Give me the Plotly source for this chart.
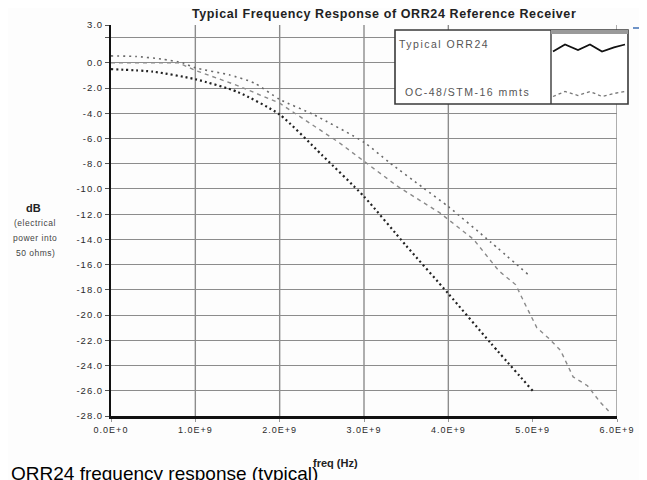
import plotly.graph_objects as go

# ---------------- data ----------------
freq_orr24 = [0.0e9, 0.5e9, 1.0e9, 1.5e9, 2.0e9, 2.5e9, 3.0e9, 3.5e9, 4.0e9, 4.5e9, 5.0e9]
db_orr24 = [-0.5, -0.7, -1.3, -2.3, -4.1, -7.3, -10.6, -14.5, -18.3, -22.2, -26.0]

freq_upper = [0.0e9, 0.3e9, 0.6e9, 0.85e9, 1.0e9, 1.4e9, 1.7e9, 2.0e9, 2.4e9, 3.0e9,
              3.3e9, 3.7e9, 4.0e9, 4.5e9, 4.95e9]
db_upper = [0.55, 0.5, 0.3, 0.0, -0.4, -0.95, -1.6, -2.9, -4.1, -6.3,
            -7.9, -9.9, -11.4, -14.2, -16.8]

freq_lower = [0.0e9, 0.4e9, 0.8e9, 1.0e9, 1.5e9, 2.0e9, 2.4e9, 2.7e9, 3.0e9, 3.4e9,
              3.9e9, 4.3e9, 4.6e9, 4.8e9, 4.9e9, 5.05e9, 5.2e9, 5.33e9, 5.48e9,
              5.65e9, 5.8e9, 5.9e9]
db_lower = [0.0, 0.0, 0.0, -0.6, -1.8, -3.2, -5.0, -6.3, -7.8, -9.8,
            -11.9, -14.0, -16.5, -17.6, -19.0, -21.0, -21.9, -22.8, -24.9,
            -25.6, -26.9, -27.6]

x_tick_vals = [0, 1e9, 2e9, 3e9, 4e9, 5e9, 6e9]
x_tick_text = ["0.0E+0", "1.0E+9", "2.0E+9", "3.0E+9", "4.0E+9", "5.0E+9", "6.0E+9"]
x_grid_vals = [1e9, 2e9, 3e9, 4e9, 6e9]

y_tick_vals = [3, 2, 0, -2, -4, -6, -8, -10, -12, -14, -16, -18, -20, -22, -24, -26, -28]
y_tick_text = ["3.0", "", "0.0", "-2.0", "-4.0", "-6.0", "-8.0", "-10.0", "-12.0", "-14.0",
               "-16.0", "-18.0", "-20.0", "-22.0", "-24.0", "-26.0", "-28.0"]

legend_labels = ["Typical ORR24", "OC-48/STM-16 mmts"]
ylabel_lines = ["(electrical", "power into", "50 ohms)"]


def spaced(t, ls="1px"):
    return f"<span style='letter-spacing:{ls}'>{t}</span>" if t else t


# ---------------- layout helpers ----------------
# the page body has an 8px margin, so the figure is drawn 8px in and 8px down
OFF = 8
W, H = 647 - OFF, 480 - OFF
L, R, T, B = 111 - OFF, 30, 25 - OFF, 64
PW, PH = W - L - R, H - T - B


def px(x):
    return (x - OFF - L) / PW


def py(y):
    return (H - B - (y - OFF)) / PH


FONT = "Arial, Liberation Sans, Helvetica, sans-serif"

fig = go.Figure()

fig.add_trace(go.Scatter(x=freq_upper, y=db_upper, mode="lines", name="upper",
                         line=dict(color="#6a6a6a", width=1.6, dash="2px,4px", shape="spline",
                                   smoothing=0.6),
                         showlegend=False))
fig.add_trace(go.Scatter(x=freq_lower, y=db_lower, mode="lines", name="lower",
                         line=dict(color="#8a8a8a", width=1.4, dash="4px,4px"),
                         showlegend=False))
fig.add_trace(go.Scatter(x=freq_orr24, y=db_orr24, mode="lines", name=legend_labels[0],
                         line=dict(color="#222222", width=2.2, dash="2px,3px", shape="spline",
                                   smoothing=0.6),
                         showlegend=False))

shapes = []
# vertical grid lines (no line at 5E9 in the reference)
for gx in x_grid_vals:
    shapes.append(dict(type="line", xref="x", yref="paper", x0=gx, x1=gx, y0=0, y1=1,
                       line=dict(color="#8c8c8c", width=1.4), layer="below"))

# legend box
lx0, lx1, ly0, ly1 = px(395), px(628), py(104), py(30)
ldiv = px(551)
shapes.append(dict(type="rect", xref="paper", yref="paper", x0=lx0, x1=lx1, y0=ly0, y1=ly1,
                   fillcolor="white", line=dict(color="#3a3a3a", width=1.6), layer="above"))
shapes.append(dict(type="line", xref="paper", yref="paper", x0=ldiv, x1=ldiv, y0=ly0, y1=ly1,
                   line=dict(color="#3a3a3a", width=1.4), layer="above"))
shapes.append(dict(type="rect", xref="paper", yref="paper", x0=ldiv, x1=lx1, y0=py(34), y1=ly1,
                   fillcolor="#9a9a9a", line=dict(width=0), layer="above"))
# small blue dash at the top right of the page
shapes.append(dict(type="line", xref="paper", yref="paper", x0=px(633), x1=px(645),
                   y0=py(28), y1=py(28), line=dict(color="#3f6fb5", width=1.5)))


def zigzag(ycenter, amp):
    xs = [553, 565, 578, 590, 602, 614, 625]
    ys = [ycenter + amp, ycenter - amp, ycenter + amp * 0.6, ycenter - amp,
          ycenter + amp, ycenter - amp * 0.2, ycenter - amp]
    pts = [f"{px(a):.5f},{py(b):.5f}" for a, b in zip(xs, ys)]
    return "M " + " L ".join(pts)


shapes.append(dict(type="path", xref="paper", yref="paper", path=zigzag(48, 3.5),
                   line=dict(color="#111111", width=1.8), layer="above"))
shapes.append(dict(type="path", xref="paper", yref="paper", path=zigzag(94, 2.5),
                   line=dict(color="#777777", width=1.3, dash="dot"), layer="above"))


def ann(text, x, y, size, color="#222222", xanchor="center", yanchor="middle"):
    return dict(text=text, xref="paper", yref="paper", x=px(x), y=py(y),
                xanchor=xanchor, yanchor=yanchor, showarrow=False,
                font=dict(family=FONT, size=size, color=color))


annotations = [
    ann(spaced("<b>Typical Frequency Response of ORR24 Reference Receiver</b>", "0.6px"),
        384, 14, 12.5),
    ann(spaced(legend_labels[0], "1.5px"), 397, 44, 10.5, "#555555", xanchor="left"),
    ann(spaced(legend_labels[1], "1.5px"), 403, 92, 10.5, "#555555", xanchor="left"),
    ann("<b>dB</b>", 33, 208, 11),
    ann("<b>freq (Hz)</b>", 335, 463, 11),
    ann("ORR24 frequency response (typical)", OFF + 1, 461, 19, "#000000",
        xanchor="left", yanchor="top"),
]
for i, t in enumerate(ylabel_lines):
    annotations.append(ann(spaced(t, "0.5px"), 35, 223 + 15 * i, 8.5, "#444444"))

fig.update_layout(
    width=W, height=H,
    margin=dict(l=L, r=R, t=T, b=B, pad=0),
    paper_bgcolor="#fdfdfd", plot_bgcolor="#fdfdfd",
    showlegend=False,
    shapes=shapes,
    annotations=annotations,
    xaxis=dict(range=[0, 6e9], tickvals=x_tick_vals, ticktext=[spaced(t) for t in x_tick_text],
               showgrid=False, zeroline=False, showline=True, linecolor="#111111",
               linewidth=2.5, ticks="outside", ticklen=3, tickcolor="#999999",
               tickfont=dict(family=FONT, size=9, color="#2a2a2a")),
    yaxis=dict(range=[-28, 3], tickvals=y_tick_vals, ticktext=[spaced(t) for t in y_tick_text],
               showgrid=True, gridcolor="#8c8c8c", gridwidth=1.4,
               zeroline=False, showline=True, linecolor="#111111", linewidth=2,
               ticks="outside", ticklen=4, tickcolor="#555555",
               tickfont=dict(family=FONT, size=9.5, color="#2a2a2a")),
)

fig.write_html("out.html")
